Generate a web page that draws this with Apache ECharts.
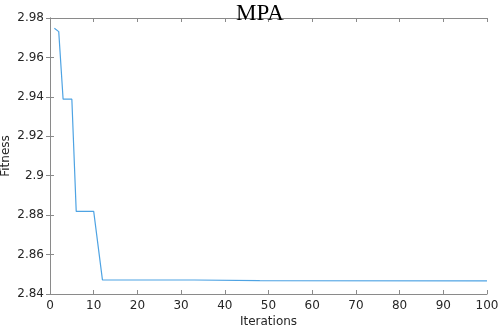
<!DOCTYPE html>
<html>
<head>
<meta charset="utf-8">
<script src="https://cdn.jsdelivr.net/npm/echarts@6/dist/echarts.min.js"></script>
<style>
html, body { margin: 0; padding: 0; background: #fff; }
#chart { width: 498px; height: 326px; }
</style>
</head>
<body>
<div id="chart"></div>
<script>
// breakpoints of the convergence curve (iteration, best fitness)
var iterations = [1, 2, 3, 5, 6, 10, 12, 33, 48, 100];
var fitness = [2.9748, 2.9731, 2.9388, 2.9388, 2.8819, 2.8819, 2.8472, 2.8471, 2.8468, 2.8467];
var xTicks = [0, 10, 20, 30, 40, 50, 60, 70, 80, 90, 100];
var yTicks = [2.84, 2.86, 2.88, 2.9, 2.92, 2.94, 2.96, 2.98];

var lineData = iterations.map(function (it, i) { return [it, fitness[i]]; });

var chart = echarts.init(document.getElementById("chart"));
var axisGray = "#8a8a8a";
var labelColor = "#262626";
var tickFont = "DejaVu Sans";
var option = {
  animation: false,
  title: {
    text: "MPA",
    left: 231,
    top: -3,
    textStyle: {
      fontFamily: "Liberation Serif",
      fontWeight: "normal",
      fontSize: 23,
      color: "#000"
    }
  },
  grid: { left: 50, right: 11, top: 18, bottom: 32, containLabel: false, outerBoundsMode: "none" },
  xAxis: [
    {
      type: "value",
      min: 0,
      max: 100,
      interval: 10,
      name: "Iterations",
      nameLocation: "middle",
      nameGap: 22,
      nameMoveOverlap: false,
      nameTextStyle: { fontFamily: tickFont, fontSize: 12, color: labelColor },
      axisLine: { lineStyle: { color: axisGray } },
      axisTick: { inside: true, length: 4, lineStyle: { color: axisGray } },
      axisLabel: { fontFamily: tickFont, fontSize: 12, color: labelColor, margin: 6 },
      splitLine: { show: false }
    },
    {
      type: "value",
      position: "top",
      min: 0,
      max: 100,
      interval: 10,
      axisLine: { lineStyle: { color: axisGray } },
      axisTick: { inside: true, length: 4, lineStyle: { color: axisGray } },
      axisLabel: { show: false },
      splitLine: { show: false }
    }
  ],
  yAxis: [
    {
      type: "value",
      min: 2.84,
      max: 2.98,
      interval: 0.02,
      name: "Fitness",
      nameLocation: "middle",
      nameGap: 38,
      nameMoveOverlap: false,
      nameTextStyle: { fontFamily: tickFont, fontSize: 12, color: labelColor },
      axisLine: { show: true, lineStyle: { color: axisGray } },
      axisTick: { show: true, inside: true, length: 4, lineStyle: { color: axisGray } },
      axisLabel: {
        fontFamily: tickFont,
        fontSize: 12,
        color: labelColor,
        margin: 6,
        formatter: function (v) { return String(parseFloat(v.toFixed(2))); }
      },
      splitLine: { show: false }
    },
    {
      type: "value",
      position: "right",
      min: 2.84,
      max: 2.98,
      interval: 0.02,
      axisLine: { show: true, lineStyle: { color: axisGray } },
      axisTick: { show: true, inside: true, length: 4, lineStyle: { color: axisGray } },
      axisLabel: { show: false },
      splitLine: { show: false }
    }
  ],
  series: [
    {
      type: "line",
      data: lineData,
      showSymbol: false,
      lineStyle: { color: "#4ea3e3", width: 1.2 },
      itemStyle: { color: "#4ea3e3" }
    }
  ]
};
chart.setOption(option);
</script>
</body>
</html>
